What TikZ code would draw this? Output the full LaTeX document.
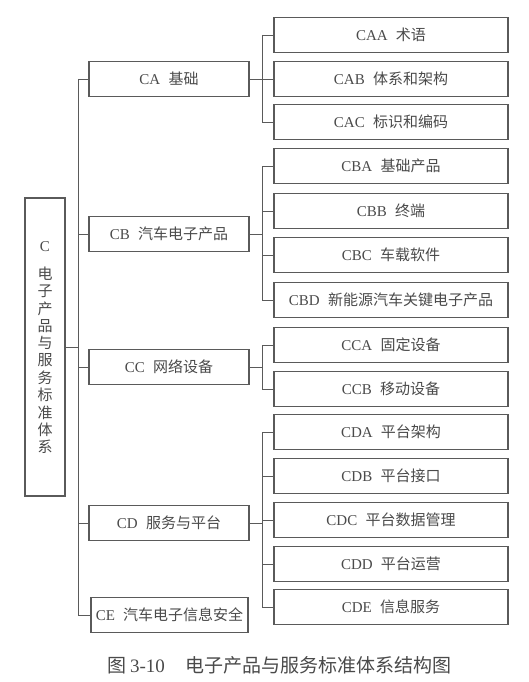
\documentclass[tikz,border=0pt]{standalone}
\usepackage{fontspec}
\setmainfont{Liberation Serif}
\newfontfamily\cjk{Noto Sans CJK SC}
\definecolor{linec}{HTML}{5A5A5A}
\definecolor{textc}{HTML}{4A4A4A}
\newcommand{\lbl}[2]{#1\hspace{0.55em}{\cjk #2}}
\tikzset{
  ln/.style={draw=linec, line width=0.9pt},
  box/.style={draw=linec, line width=1.1pt, minimum height=35pt, inner sep=0pt, text=textc, font=\fontsize{15}{18}\selectfont, fill=white},
  midbox/.style={box, minimum width=160pt},
  leafbox/.style={box, minimum width=234pt},
  rootchar/.style={inner sep=0pt, text=textc, font=\fontsize{15}{18}\selectfont},
}
\begin{document}
\begin{tikzpicture}[x=1pt,y=-1pt]
\useasboundingbox[fill=white] (0,0) rectangle (528,682);
% root
\node[box, minimum width=40pt, minimum height=298pt] (root) at (45,347) {};
\node[rootchar] (rootC) at (45,247) {C};
\foreach \c [count=\i] in {电,子,产,品,与,服,务,标,准,体,系}
  \node[rootchar] (rc\i) at (45,{274+17.3*(\i-1)}) {\cjk \c};
% middle level
\node[midbox] (CA) at (169,79) {\lbl{CA}{基础}};
\node[midbox] (CB) at (169,234) {\lbl{CB}{汽车电子产品}};
\node[midbox] (CC) at (169,367) {\lbl{CC}{网络设备}};
\node[midbox] (CD) at (169,523) {\lbl{CD}{服务与平台}};
\node[box, minimum width=157pt] (CE) at (169.5,615) {\lbl{CE}{汽车电子信息安全}};
% leaves
\node[leafbox] (CAA) at (391,35) {\lbl{CAA}{术语}};
\node[leafbox] (CAB) at (391,79) {\lbl{CAB}{体系和架构}};
\node[leafbox] (CAC) at (391,122) {\lbl{CAC}{标识和编码}};
\node[leafbox] (CBA) at (391,166) {\lbl{CBA}{基础产品}};
\node[leafbox] (CBB) at (391,211) {\lbl{CBB}{终端}};
\node[leafbox] (CBC) at (391,255) {\lbl{CBC}{车载软件}};
\node[leafbox] (CBD) at (391,300) {\lbl{CBD}{新能源汽车关键电子产品}};
\node[leafbox] (CCA) at (391,345) {\lbl{CCA}{固定设备}};
\node[leafbox] (CCB) at (391,389) {\lbl{CCB}{移动设备}};
\node[leafbox] (CDA) at (391,432) {\lbl{CDA}{平台架构}};
\node[leafbox] (CDB) at (391,476) {\lbl{CDB}{平台接口}};
\node[leafbox] (CDC) at (391,520) {\lbl{CDC}{平台数据管理}};
\node[leafbox] (CDD) at (391,564) {\lbl{CDD}{平台运营}};
\node[leafbox] (CDE) at (391,607) {\lbl{CDE}{信息服务}};
% caption
\node[anchor=west, inner sep=0pt, text=textc, font=\fontsize{19}{21}\selectfont] (cap) at (107,665)
  {{\cjk 图}\hspace{0.2em}3-10\hspace{1.1em}{\cjk 电子产品与服务标准体系结构图}};
% connectors
\coordinate (trunk) at (78,0);
\coordinate (br) at (262,0);
\draw[ln] (root.east) -- (root.east -| trunk);
\draw[ln] (CA.west -| trunk) -- (CE.west -| trunk);
\foreach \n in {CA,CB,CC,CD,CE} \draw[ln] (\n.west) -- (\n.west -| trunk);
\foreach \n in {CA,CB,CC,CD} \draw[ln] (\n.east) -- (\n.east -| br);
\draw[ln] (CAA.west -| br) -- (CAC.west -| br);
\draw[ln] (CBA.west -| br) -- (CBD.west -| br);
\draw[ln] (CCA.west -| br) -- (CCB.west -| br);
\draw[ln] (CDA.west -| br) -- (CDE.west -| br);
\foreach \n in {CAA,CAB,CAC,CBA,CBB,CBC,CBD,CCA,CCB,CDA,CDB,CDC,CDD,CDE} \draw[ln] (\n.west) -- (\n.west -| br);
\end{tikzpicture}
\end{document}
